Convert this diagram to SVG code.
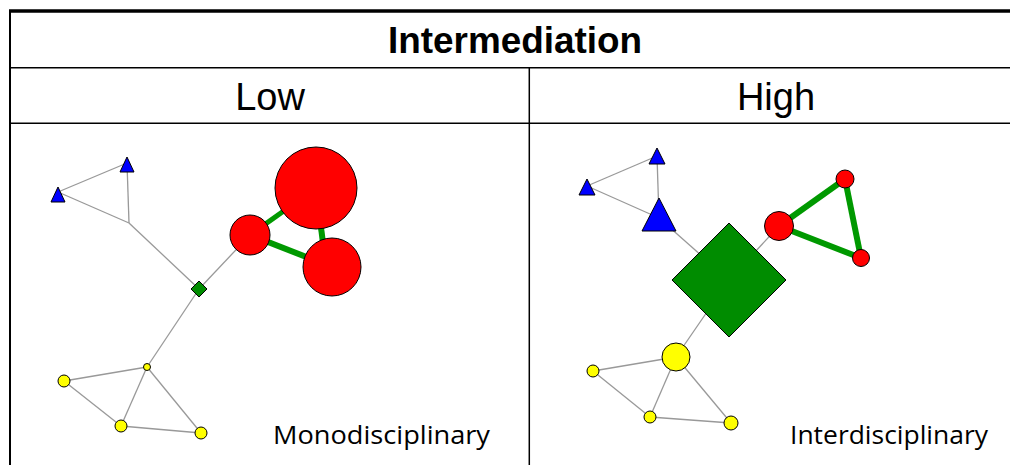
<svg xmlns="http://www.w3.org/2000/svg" width="1010" height="465" viewBox="0 0 1010 465">
<style>
.grid{stroke:#000;fill:none}
.e{stroke:#999;stroke-width:1.3;fill:none}
.g{stroke:#009900;fill:none}
.red{fill:#ff0000;stroke:#000;stroke-width:1}
.blue{fill:#0000ff;stroke:#000;stroke-width:1}
.grn{fill:#008c00;stroke:#000;stroke-width:1}
.yel{fill:#ffff00;stroke:#000;stroke-width:1}
.h{font-family:'Liberation Sans',Arial,sans-serif;text-anchor:middle;fill:#000}
.l{font-family:'Open Sans','Noto Sans',sans-serif;font-size:25px;fill:#000}
</style>
<rect width="1010" height="465" fill="#fff"/>
<g id="table">
<line class="grid" x1="9" y1="11" x2="1010" y2="11" stroke-width="3.5"/>
<line class="grid" x1="10" y1="10" x2="10" y2="465" stroke-width="2"/>
<line class="grid" x1="10" y1="67.7" x2="1010" y2="67.7" stroke-width="1.5"/>
<line class="grid" x1="10" y1="123.3" x2="1010" y2="123.3" stroke-width="1.5"/>
<line class="grid" x1="529.3" y1="67.7" x2="529.3" y2="465" stroke-width="1.5"/>
<text class="h" x="515" y="53" font-size="36" font-weight="bold" textLength="254" lengthAdjust="spacingAndGlyphs">Intermediation</text>
<text class="h" x="270" y="110" font-size="38">Low</text>
<text class="h" x="776" y="110" font-size="38">High</text>
<text class="l" x="273" y="444" textLength="217" lengthAdjust="spacingAndGlyphs">Monodisciplinary</text>
<text class="l" x="790" y="444" textLength="198" lengthAdjust="spacingAndGlyphs">Interdisciplinary</text>
</g>
<g id="connectors">
<line class="e" x1="58" y1="192" x2="127" y2="163"/>
<line class="e" x1="58" y1="192" x2="129" y2="223"/>
<line class="e" x1="127" y1="163" x2="129" y2="223"/>
<line class="e" x1="129" y1="223" x2="199" y2="289"/>
<line class="e" x1="199" y1="289" x2="250" y2="235"/>
<line class="e" x1="199" y1="289" x2="147" y2="367"/>
<line class="e" x1="147" y1="367" x2="64" y2="381"/>
<line class="e" x1="64" y1="381" x2="121" y2="426"/>
<line class="e" x1="147" y1="367" x2="121" y2="426"/>
<line class="e" x1="147" y1="367" x2="201" y2="433"/>
<line class="e" x1="121" y1="426" x2="201" y2="433"/>
<line class="g" x1="250" y1="235" x2="316" y2="188" stroke-width="5"/>
<line class="g" x1="316" y1="188" x2="326" y2="267" stroke-width="6"/>
<line class="g" x1="250" y1="235" x2="332" y2="267" stroke-width="6"/>
<line class="e" x1="587" y1="186" x2="657" y2="156"/>
<line class="e" x1="587" y1="186" x2="659" y2="218"/>
<line class="e" x1="657" y1="156" x2="659" y2="218"/>
<line class="e" x1="659" y1="218" x2="729" y2="280"/>
<line class="e" x1="729" y1="280" x2="779" y2="226"/>
<line class="e" x1="729" y1="280" x2="676" y2="357"/>
<line class="e" x1="676" y1="357" x2="593" y2="371"/>
<line class="e" x1="593" y1="371" x2="650" y2="417"/>
<line class="e" x1="676" y1="357" x2="650" y2="417"/>
<line class="e" x1="676" y1="357" x2="731" y2="423"/>
<line class="e" x1="650" y1="417" x2="731" y2="423"/>
<line class="g" x1="779" y1="226" x2="845" y2="179" stroke-width="6"/>
<line class="g" x1="779" y1="226" x2="861" y2="258" stroke-width="6"/>
<line class="g" x1="845" y1="179" x2="861" y2="258" stroke-width="6"/>
</g>
<g id="left-blue-1"><polygon class="blue" points="58,187 65,202 51,202"/></g>
<g id="left-blue-2"><polygon class="blue" points="127,157 134,172 120,172"/></g>
<g id="left-green"><polygon class="grn" points="199,281 207,289 199,297 191,289"/></g>
<g id="left-red-1"><circle class="red" cx="250" cy="235" r="20"/></g>
<g id="left-red-2"><circle class="red" cx="316" cy="188" r="41"/></g>
<g id="left-red-3"><circle class="red" cx="332" cy="267" r="29"/></g>
<g id="left-yel-1"><circle class="yel" cx="147" cy="367" r="3.5"/></g>
<g id="left-yel-2"><circle class="yel" cx="64" cy="381" r="6"/></g>
<g id="left-yel-3"><circle class="yel" cx="121" cy="426" r="6"/></g>
<g id="left-yel-4"><circle class="yel" cx="201" cy="433" r="6"/></g>
<g id="right-blue-1"><polygon class="blue" points="587,179 595,195 579,195"/></g>
<g id="right-blue-2"><polygon class="blue" points="657,148 665,164 649,164"/></g>
<g id="right-blue-3"><polygon class="blue" points="659,198 676,231 642,231"/></g>
<g id="right-green"><polygon class="grn" points="729,223 786,280 729,337 672,280"/></g>
<g id="right-red-1"><circle class="red" cx="779" cy="226" r="14.5"/></g>
<g id="right-red-2"><circle class="red" cx="845" cy="179" r="9"/></g>
<g id="right-red-3"><circle class="red" cx="861" cy="258" r="8.5"/></g>
<g id="right-yel-1"><circle class="yel" cx="676" cy="357" r="14"/></g>
<g id="right-yel-2"><circle class="yel" cx="593" cy="371" r="6"/></g>
<g id="right-yel-3"><circle class="yel" cx="650" cy="417" r="6"/></g>
<g id="right-yel-4"><circle class="yel" cx="731" cy="423" r="7"/></g>
</svg>
